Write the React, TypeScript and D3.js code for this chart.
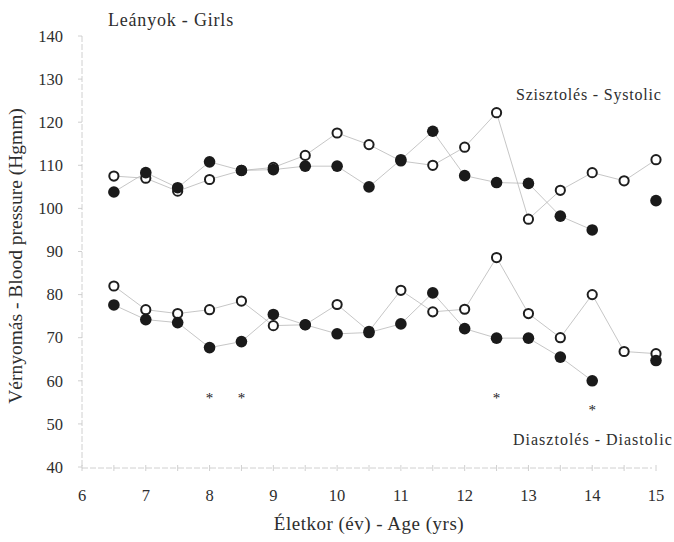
import React from "react";
import * as d3 from "d3";

// Age groups (years)
const ages = [6.5, 7, 7.5, 8, 8.5, 9, 9.5, 10, 10.5, 11, 11.5, 12, 12.5, 13, 13.5, 14, 14.5, 15];

// Blood pressure (Hgmm) – open vs. filled groups
const systolicOpen = [107.5, 107, 104, 106.7, 108.8, 109.5, 112.3, 117.5, 114.8, 111, 110, 114.2, 122.2, 97.5, 104.2, 108.3, 106.4, 111.3];
const systolicFilled = [103.8, 108.3, 104.8, 110.8, 108.8, 109, 109.8, 109.8, 105, 111.3, 117.9, 107.6, 106, 105.8, 98.2, 95, null, 101.8];
const diastolicOpen = [82, 76.5, 75.6, 76.5, 78.5, 72.8, 73, 77.7, 71.5, 81, 76, 76.6, 88.6, 75.6, 70, 80, 66.8, 66.3];
const diastolicFilled = [77.6, 74.2, 73.5, 67.7, 69.1, 75.4, 73, 70.9, 71.2, 73.2, 80.4, 72.1, 69.9, 69.9, 65.5, 60, null, 64.7];

// Significance markers
const starAges = [8, 8.5, 12.5, 14];
const starLevels = [57.4, 57.4, 57.4, 54.4];

const xTicks = [6, 7, 8, 9, 10, 11, 12, 13, 14, 15];
const yTicks = [40, 50, 60, 70, 80, 90, 100, 110, 120, 130, 140];

const W = 674;
const H = 542;
const FONT = "Liberation Serif";
const INK = "#2e2e2e";

const txt = { fontFamily: FONT } as React.CSSProperties;

export default function App() {
  const x = d3.scaleLinear().domain([6, 15]).range([82, 656]);
  const y = d3.scaleLinear().domain([40, 140]).range([467, 36]);

  const line = d3
    .line<[number, number | null]>()
    .defined((d) => d[1] !== null)
    .x((d) => x(d[0]))
    .y((d) => y(d[1] as number));

  const pairs = (vals: (number | null)[]) => ages.map((a, i) => [a, vals[i]] as [number, number | null]);

  const series = [systolicOpen, systolicFilled, diastolicOpen, diastolicFilled];
  const halfTicks = d3.range(6, 15.01, 0.5);

  return (
    <svg width={W} height={H} style={{ position: "absolute", left: 0, top: 0, background: "#fff" }}>
      {/* axes */}
      <line x1={x(6)} x2={x(6)} y1={y(140)} y2={y(40)} stroke="#c4c4c4" strokeWidth={0.8} strokeDasharray="6 2" />
      <line x1={x(6)} x2={x(15) - 4} y1={y(40) + 1} y2={y(40) + 1} stroke="#c4c4c4" strokeWidth={0.8} strokeDasharray="6 2" />
      {halfTicks.map((t) => (
        <line key={"xt" + t} x1={x(t)} x2={x(t)} y1={y(40) - 2} y2={y(40) + 4} stroke="#c4c4c4" strokeWidth={0.8} />
      ))}
      {yTicks.map((t) => (
        <line key={"yt" + t} x1={x(6) - 4} x2={x(6)} y1={y(t)} y2={y(t)} stroke="#c4c4c4" strokeWidth={0.8} />
      ))}

      {/* tick labels */}
      {yTicks.map((t) => (
        <text key={"yl" + t} style={txt} x={63} y={y(t)} dy="0.35em" textAnchor="end" fontSize={16.5} fill={INK}>
          {t}
        </text>
      ))}
      {xTicks.map((t) => (
        <text key={"xl" + t} style={txt} x={x(t)} y={501} textAnchor="middle" fontSize={16.5} fill={INK}>
          {t}
        </text>
      ))}

      {/* titles */}
      <text style={txt} x={108} y={26} fontSize={18} fill={INK} letterSpacing={0.8}>
        Leányok - Girls
      </text>
      <text style={txt} x={369} y={530} textAnchor="middle" fontSize={19} fill={INK} letterSpacing={0.5}>
        Életkor (év) - Age (yrs)
      </text>
      <text style={txt} transform={`translate(22, 256) rotate(-90)`} textAnchor="middle" fontSize={19.5} fill={INK}>
        Vérnyomás - Blood pressure (Hgmm)
      </text>
      <text style={txt} x={516} y={100} fontSize={16} fill={INK} letterSpacing={0.8}>
        Szisztolés - Systolic
      </text>
      <text style={txt} x={513} y={445} fontSize={16} fill={INK} letterSpacing={1}>
        Diasztolés - Diastolic
      </text>

      {/* connecting lines */}
      {series.map((s, i) => (
        <path key={"ln" + i} d={line(pairs(s)) || ""} fill="none" stroke="#b8b8b8" strokeWidth={0.8} />
      ))}

      {/* open markers */}
      {[systolicOpen, diastolicOpen].map((s, si) =>
        ages.map((a, i) =>
          s[i] === null ? null : (
            <circle key={`o${si}-${i}`} cx={x(a)} cy={y(s[i] as number)} r={4.6} fill="#fff" stroke="#1e1e1e" strokeWidth={2} />
          )
        )
      )}

      {/* filled markers */}
      {[systolicFilled, diastolicFilled].map((s, si) =>
        ages.map((a, i) =>
          s[i] === null ? null : <circle key={`f${si}-${i}`} cx={x(a)} cy={y(s[i] as number)} r={5.8} fill="#1a1a1a" />
        )
      )}

      {/* significance stars */}
      {starAges.map((a, i) => (
        <text key={"st" + i} style={txt} x={x(a)} y={y(starLevels[i])} dy="0.7em" textAnchor="middle" fontSize={15} fill="#222">
          *
        </text>
      ))}
    </svg>
  );
}
